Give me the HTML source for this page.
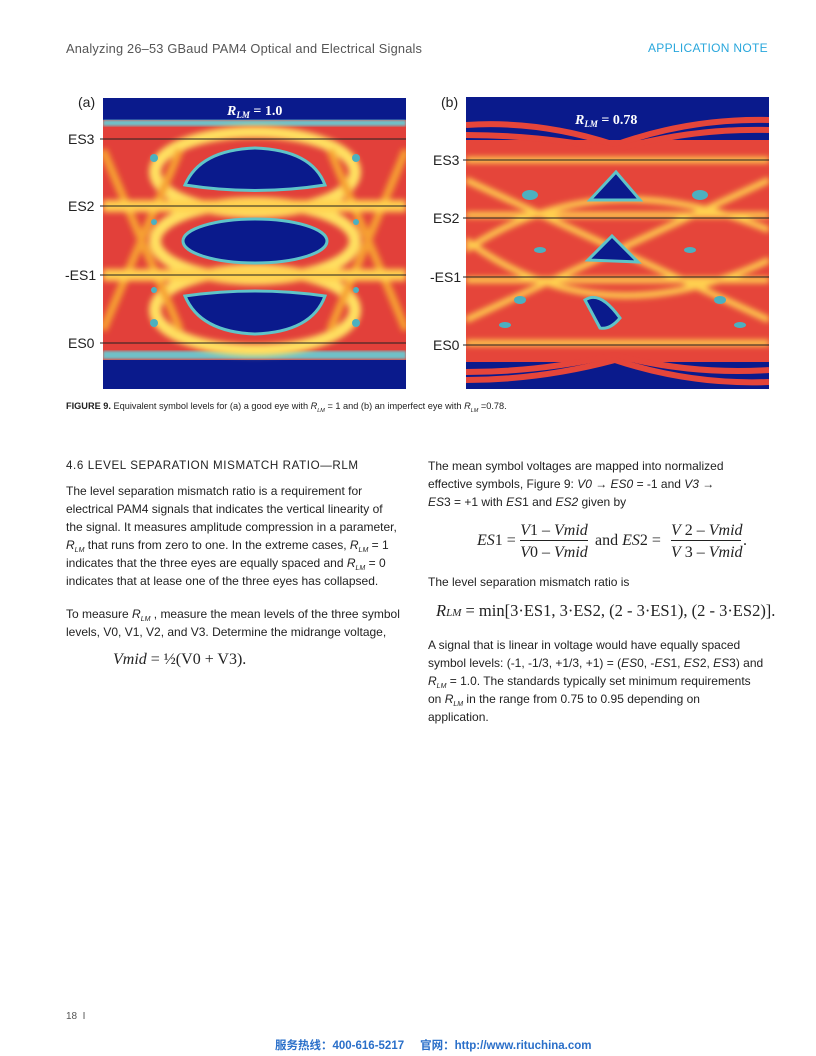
<!DOCTYPE html>
<html><head><meta charset="utf-8"><style>
body{margin:0;background:#fff;}
#p{position:relative;width:816px;height:1056px;overflow:hidden;font-family:"Liberation Sans",sans-serif;color:#222;}
.a{position:absolute;white-space:nowrap;}
.t{font-size:12px;}
.s{font-size:7px;font-style:italic;vertical-align:-3px;}
.m{font-family:"Liberation Serif",serif;}
</style></head><body><div id="p">
<div class="a" style="left:66px;top:41px;font-size:12.8px;color:#555;letter-spacing:0.2px">Analyzing 26–53 GBaud PAM4 Optical and Electrical Signals</div>
<div class="a" style="left:648px;top:41px;font-size:12px;color:#29a7dc;letter-spacing:0.3px">APPLICATION NOTE</div>

<svg class="a" style="left:0;top:0" width="816" height="400">
<defs>
<filter id="b1" x="-20%" y="-20%" width="140%" height="140%"><feGaussianBlur stdDeviation="3"/></filter>
<filter id="b2"><feGaussianBlur stdDeviation="1.2"/></filter>
<clipPath id="ca"><rect x="103" y="98" width="303" height="291"/></clipPath>
<clipPath id="cb"><rect x="466" y="97" width="303" height="292"/></clipPath>
</defs>
<g clip-path="url(#ca)">
<rect x="103" y="98" width="303" height="291" fill="#0a1a8c"/>
<rect x="103" y="120" width="303" height="240" fill="#e2403a"/>
<rect x="103" y="120" width="303" height="6" fill="#6fc0c8" filter="url(#b2)"/>
<rect x="103" y="351" width="303" height="8" fill="#6fc0c8" filter="url(#b2)"/>
<g filter="url(#b1)" fill="none" stroke="#ffe060" stroke-width="12">
<ellipse cx="255" cy="172" rx="100" ry="40"/>
<ellipse cx="255" cy="241" rx="100" ry="38"/>
<ellipse cx="255" cy="310" rx="100" ry="40"/>
<path d="M103 150 L180 330 M103 330 L180 150 M406 150 L330 330 M406 330 L330 150" stroke="#f6a030" stroke-width="8"/>
<line x1="103" y1="206" x2="406" y2="206" stroke="#ffd050"/>
<line x1="103" y1="275" x2="406" y2="275" stroke="#ffd050"/>
</g>
<g fill="#0a1a8c" stroke="#5fc4c8" stroke-width="3">
<path d="M185 185 Q200 150 255 148 Q312 150 325 185 Q255 196 185 185 Z"/>
<ellipse cx="255" cy="241" rx="72" ry="22"/>
<path d="M185 296 Q255 286 325 296 Q312 332 255 334 Q200 332 185 296 Z"/>
</g>
<g fill="#4cb0c0"><circle cx="154" cy="158" r="4"/><circle cx="356" cy="158" r="4"/><circle cx="154" cy="222" r="3"/><circle cx="356" cy="222" r="3"/><circle cx="154" cy="290" r="3"/><circle cx="356" cy="290" r="3"/><circle cx="154" cy="323" r="4"/><circle cx="356" cy="323" r="4"/></g>
</g>
<g clip-path="url(#cb)">
<rect x="466" y="97" width="303" height="292" fill="#0a1a8c"/>
<rect x="466" y="140" width="303" height="222" fill="#e5453a"/>
<g fill="none" stroke="#e5453a" stroke-width="6">
<path d="M466 125 Q540 120 615 145 Q690 118 769 120"/>
<path d="M466 135 Q540 135 615 150 Q690 128 769 130"/>
<path d="M466 372 Q540 372 615 355 Q690 375 769 370"/>
<path d="M466 380 Q540 380 615 360 Q690 385 769 382"/>
</g>
<g filter="url(#b1)" fill="none" stroke="#ffd050" stroke-width="6">
<path d="M466 180 L769 320 M466 320 L769 180 M466 250 Q600 160 769 230 M466 240 Q600 340 769 260"/>
<line x1="466" y1="160" x2="769" y2="160"/><line x1="466" y1="215" x2="769" y2="215"/><line x1="466" y1="280" x2="769" y2="280"/><line x1="466" y1="343" x2="769" y2="343"/>
</g>
<g fill="#0a1a8c" stroke="#5fc4c8" stroke-width="3">
<path d="M590 200 L616 172 L640 200 Z"/>
<path d="M588 260 L612 236 L638 262 Z"/>
<path d="M585 300 Q600 290 620 318 Q610 330 600 328 Z"/>
</g>
<g fill="#4cb0c0"><ellipse cx="530" cy="195" rx="8" ry="5"/><ellipse cx="700" cy="195" rx="8" ry="5"/><ellipse cx="520" cy="300" rx="6" ry="4"/><ellipse cx="720" cy="300" rx="6" ry="4"/><ellipse cx="540" cy="250" rx="6" ry="3"/><ellipse cx="690" cy="250" rx="6" ry="3"/><ellipse cx="505" cy="325" rx="6" ry="3"/><ellipse cx="740" cy="325" rx="6" ry="3"/></g>
</g>
<g stroke="#222" stroke-width="1">
<line x1="100" y1="139" x2="406" y2="139"/><line x1="100" y1="206" x2="406" y2="206"/><line x1="100" y1="275" x2="406" y2="275"/><line x1="100" y1="343" x2="406" y2="343"/>
<line x1="463" y1="160" x2="769" y2="160"/><line x1="463" y1="218" x2="769" y2="218"/><line x1="463" y1="277" x2="769" y2="277"/><line x1="463" y1="345" x2="769" y2="345"/>
</g>
<g font-family="Liberation Sans,sans-serif" font-size="14" fill="#222">
<text x="78" y="107">(a)</text><text x="441" y="107">(b)</text>
<text x="68" y="144">ES3</text><text x="68" y="211">ES2</text><text x="65" y="280">-ES1</text><text x="68" y="348">ES0</text>
<text x="433" y="165">ES3</text><text x="433" y="223">ES2</text><text x="430" y="282">-ES1</text><text x="433" y="350">ES0</text>
</g>
<g font-family="Liberation Serif,serif" font-weight="bold" font-size="14" fill="#fff">
<text x="227" y="115"><tspan font-style="italic">R</tspan><tspan font-size="9" font-style="italic" dy="3">LM</tspan><tspan dy="-3"> = 1.0</tspan></text>
<text x="575" y="124"><tspan font-style="italic">R</tspan><tspan font-size="9" font-style="italic" dy="3">LM</tspan><tspan dy="-3"> = 0.78</tspan></text>
</g>
</svg>

<div class="a" style="left:66px;top:401px;font-size:9.2px"><b>FIGURE 9.</b> Equivalent symbol levels for (a) a good eye with <i>R</i><span class="s" style="font-size:5.5px">LM</span> = 1 and (b) an imperfect eye with <i>R</i><span class="s" style="font-size:5.5px">LM</span> =0.78.</div>

<div class="a" style="left:66px;top:459px;font-size:11.6px;letter-spacing:0.6px">4.6 LEVEL SEPARATION MISMATCH RATIO—RLM</div>
<div class="a t" style="left:66px;top:484px">The level separation mismatch ratio is a requirement for</div>
<div class="a t" style="left:66px;top:502px">electrical PAM4 signals that indicates the vertical linearity of</div>
<div class="a t" style="left:66px;top:520px">the signal. It measures amplitude compression in a parameter,</div>
<div class="a t" style="left:66px;top:538px"><i>R</i><span class="s">LM</span> that runs from zero to one. In the extreme cases, <i>R</i><span class="s">LM</span> = 1</div>
<div class="a t" style="left:66px;top:556px">indicates that the three eyes are equally spaced and <i>R</i><span class="s">LM</span> = 0</div>
<div class="a t" style="left:66px;top:574px">indicates that at lease one of the three eyes has collapsed.</div>
<div class="a t" style="left:66px;top:607px">To measure <i>R</i><span class="s">LM</span> , measure the mean levels of the three symbol</div>
<div class="a t" style="left:66px;top:625px">levels, V0, V1, V2, and V3. Determine the midrange voltage,</div>
<div class="a m" style="left:113px;top:651px;font-size:16px"><i>Vmid</i> = ½(V0 + V3).</div>

<div class="a t" style="left:428px;top:459px">The mean symbol voltages are mapped into normalized</div>
<div class="a t" style="left:428px;top:477px">effective symbols, Figure 9: <i>V0</i> → <i>ES0</i> = -1 and <i>V3</i> →</div>
<div class="a t" style="left:428px;top:495px"><i>ES</i>3 = +1 with <i>ES</i>1 and <i>ES2</i> given by</div>
<div class="a m" style="left:477px;top:532px;font-size:16px"><i>ES</i>1 =</div>
<div class="a m" style="left:520px;top:522px;font-size:16px;text-align:center;width:68px;border-bottom:1px solid #222;line-height:18px"><i>V</i>1 – <i>Vmid</i></div>
<div class="a m" style="left:520px;top:544px;font-size:16px;text-align:center;width:68px;line-height:18px"><i>V</i>0 – <i>Vmid</i></div>
<div class="a m" style="left:595px;top:532px;font-size:16px">and <i>ES</i>2 =</div>
<div class="a m" style="left:671px;top:522px;font-size:16px;text-align:center;width:70px;border-bottom:1px solid #222;line-height:18px"><i>V</i> 2 – <i>Vmid</i></div>
<div class="a m" style="left:671px;top:544px;font-size:16px;text-align:center;width:70px;line-height:18px"><i>V</i> 3 – <i>Vmid</i></div>
<div class="a m" style="left:743px;top:532px;font-size:16px">.</div>
<div class="a t" style="left:428px;top:575px">The level separation mismatch ratio is</div>
<div class="a m" style="left:436px;top:601px;font-size:16.5px"><i>R<span style="font-size:11px">LM</span></i> = min[3·ES1, 3·ES2, (2 - 3·ES1), (2 - 3·ES2)].</div>
<div class="a t" style="left:428px;top:638px">A signal that is linear in voltage would have equally spaced</div>
<div class="a t" style="left:428px;top:656px">symbol levels: (-1, -1/3, +1/3, +1) = (<i>ES</i>0, -<i>ES</i>1, <i>ES</i>2, <i>ES</i>3) and</div>
<div class="a t" style="left:428px;top:674px"><i>R</i><span class="s">LM</span> = 1.0. The standards typically set minimum requirements</div>
<div class="a t" style="left:428px;top:692px">on <i>R</i><span class="s">LM</span>  in the range from 0.75 to 0.95 depending on</div>
<div class="a t" style="left:428px;top:710px">application.</div>

<div class="a" style="left:66px;top:1011px;font-size:10px;color:#555">18 &nbsp;I</div>
<div class="a" style="left:275px;top:1037px;font-size:11.5px;color:#2a6fc9;font-weight:bold;font-family:'Liberation Sans','Noto Sans CJK SC',sans-serif">服务热线：400-616-5217 &nbsp;&nbsp;&nbsp; 官网：http://www.rituchina.com</div>
</div></body></html>
